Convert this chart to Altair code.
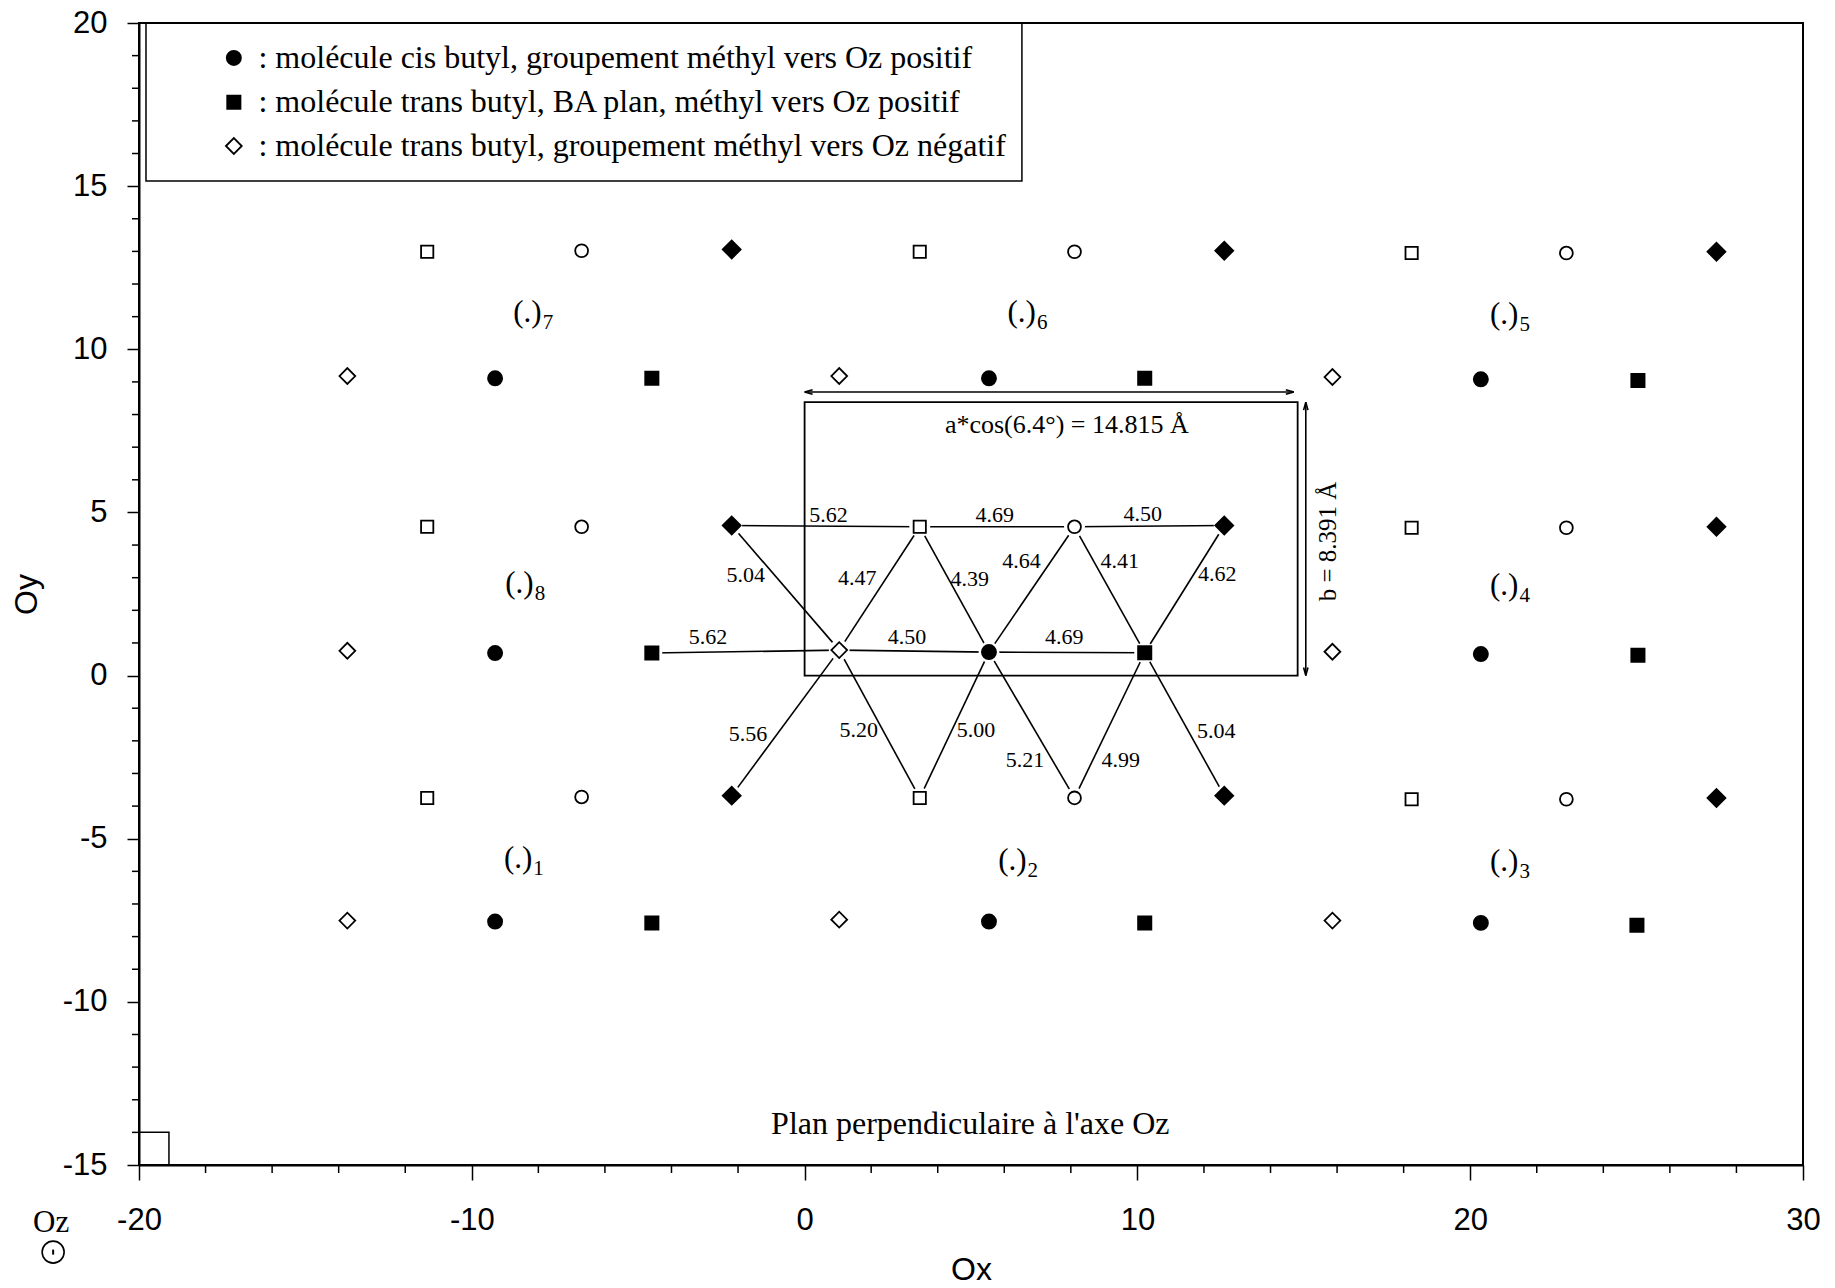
import altair as alt
import pandas as pd

# ---------------- data ----------------
open_square_x = [-11.34, 3.46, 18.24, -11.34, 3.46, 18.24, -11.34, 3.46, 18.24]
open_square_y = [12.99, 12.99, 12.95, 4.56, 4.56, 4.53, -3.75, -3.75, -3.79]
open_circle_x = [-6.70, 8.11, 22.89, -6.70, 8.11, 22.89, -6.70, 8.11, 22.89]
open_circle_y = [13.02, 12.99, 12.95, 4.56, 4.56, 4.53, -3.72, -3.75, -3.79]
filled_diamond_x = [-2.19, 12.61, 27.40, -2.19, 12.61, 27.40, -2.19, 12.61, 27.40]
filled_diamond_y = [13.06, 13.02, 12.99, 4.60, 4.60, 4.56, -3.68, -3.68, -3.75]
open_diamond_x = [-13.74, 1.04, 15.86, -13.74, 1.04, 15.86, -13.74, 1.04, 15.86]
open_diamond_y = [9.18, 9.18, 9.15, 0.76, 0.78, 0.73, -7.51, -7.48, -7.51]
filled_circle_x = [-9.30, 5.54, 20.32, -9.30, 5.54, 20.32, -9.30, 5.54, 20.32]
filled_circle_y = [9.11, 9.11, 9.08, 0.69, 0.72, 0.66, -7.54, -7.54, -7.58]
filled_square_x = [-4.59, 10.22, 25.04, -4.59, 10.22, 25.04, -4.59, 10.22, 25.01]
filled_square_y = [9.11, 9.11, 9.04, 0.69, 0.70, 0.62, -7.58, -7.58, -7.65]

# bonds between neighbouring molecules
seg_x1 = [-2.19, 3.46, 8.11, -4.59, 1.04, 5.54, -2.19, 1.04, 3.46, 5.54, 8.11, 10.22, 1.04, 1.04, 3.46, 5.54, 8.11, 10.22]
seg_y1 = [4.60, 4.56, 4.56, 0.69, 0.78, 0.72, 4.60, 0.78, 4.56, 0.72, 4.56, 0.70, 0.78, 0.78, -3.75, 0.72, -3.75, 0.70]
seg_x2 = [3.46, 8.11, 12.61, 1.04, 5.54, 10.22, 1.04, 3.46, 5.54, 8.11, 10.22, 12.61, -2.19, 3.46, 5.54, 8.11, 10.22, 12.61]
seg_y2 = [4.56, 4.56, 4.60, 0.78, 0.72, 0.70, 0.78, 4.56, 0.72, 4.56, 0.70, 4.60, -3.68, -3.75, 0.72, -3.75, 0.70, -3.68]

dist_text = ["5.62", "4.69", "4.50", "5.62", "4.50", "4.69", "5.04", "4.47", "4.39",
             "4.64", "4.41", "4.62", "5.56", "5.20", "5.00", "5.21", "4.99", "5.04"]
dist_x = [0.72, 5.71, 10.16, -2.90, 3.08, 7.80, -1.77, 1.58, 4.96, 6.52, 9.47, 12.40,
          -1.70, 1.63, 5.15, 6.62, 9.50, 12.37]
dist_y = [4.93, 4.93, 4.95, 1.19, 1.17, 1.17, 3.07, 3.00, 2.95, 3.52, 3.52, 3.12,
          -1.78, -1.66, -1.66, -2.58, -2.58, -1.71]

region_sub = ["7", "6", "5", "8", "4", "1", "2", "3"]
region_x = [-7.90, 6.95, 21.45, -8.14, 21.45, -8.18, 6.67, 21.45]
region_y = [11.12, 11.12, 11.05, 2.81, 2.73, -5.61, -5.69, -5.72]

cell_x = [0.0, 14.815]
cell_y = [0.0, 8.38]
harrow_x = [0.0, 14.70]
harrow_y = [8.69]
varrow_x = [15.06]
varrow_y = [0.0, 8.38]

legend_labels = [": molécule cis butyl, groupement méthyl vers Oz positif",
                 ": molécule trans butyl, BA plan, méthyl vers Oz positif",
                 ": molécule trans butyl, groupement méthyl vers Oz négatif"]
legend_y = [18.93, 17.57, 16.23]
legend_sym_x = -17.15
legend_txt_x = -16.41
legend_box_x = [-19.79, 6.53]
legend_box_y = [15.16, 20.0]

corner_box_x = [-20.0, -19.1]
corner_box_y = [-15.0, -14.0]

x_major = [-20, -10, 0, 10, 20, 30]
y_major = [-15, -10, -5, 0, 5, 10, 15, 20]
x_minor = [-18, -16, -14, -12, -8, -6, -4, -2, 2, 4, 6, 8, 12, 14, 16, 18, 22, 24, 26, 28]
y_minor = [-14, -13, -12, -11, -9, -8, -7, -6, -4, -3, -2, -1, 1, 2, 3, 4, 6, 7, 8, 9,
           11, 12, 13, 14, 16, 17, 18, 19]

# ---------------- chart ----------------
W, H = 1664, 1142
SERIF = "Liberation Serif"
SANS = "Liberation Sans"

xs = alt.Scale(domain=[-20, 30], nice=False, zero=False)
ys = alt.Scale(domain=[-15, 20], nice=False, zero=False)
xaxis = alt.Axis(values=x_major, tickSize=15, labelPadding=25, labelFlush=False, title="Ox",
                 titlePadding=19, labelExpr="'' + datum.value", grid=False)
yaxis = alt.Axis(values=y_major, tickSize=12, labelPadding=20, labelFlush=False, title="Oy",
                 titlePadding=19, labelExpr="'' + datum.value", grid=False)
X = alt.X("x:Q", scale=xs, axis=xaxis)
Y = alt.Y("y:Q", scale=ys, axis=yaxis)


def df(**cols):
    return pd.DataFrame(cols)


layers = []

# minor ticks
layers.append(alt.Chart(df(x=x_minor)).mark_rule(color="black", strokeWidth=1.5).encode(
    x=X, y=alt.value(H), y2=alt.value(H + 8)))
layers.append(alt.Chart(df(y=y_minor)).mark_rule(color="black", strokeWidth=1.5).encode(
    y=Y, x=alt.value(0), x2=alt.value(-7)))

# corner box
layers.append(alt.Chart(df(x=[corner_box_x[0]], x2=[corner_box_x[1]], y=[corner_box_y[0]], y2=[corner_box_y[1]]))
              .mark_rect(filled=False, stroke="black", strokeWidth=1.5)
              .encode(x=X, x2="x2:Q", y=Y, y2="y2:Q"))

# legend box
layers.append(alt.Chart(df(x=[legend_box_x[0]], x2=[legend_box_x[1]], y=[legend_box_y[0]], y2=[legend_box_y[1]]))
              .mark_rect(filled=False, stroke="black", strokeWidth=1.5)
              .encode(x=X, x2="x2:Q", y=Y, y2="y2:Q"))

# unit cell
layers.append(alt.Chart(df(x=[cell_x[0]], x2=[cell_x[1]], y=[cell_y[0]], y2=[cell_y[1]]))
              .mark_rect(filled=False, stroke="black", strokeWidth=1.8)
              .encode(x=X, x2="x2:Q", y=Y, y2="y2:Q"))

# bonds
layers.append(alt.Chart(df(x=seg_x1, y=seg_y1, x2=seg_x2, y2=seg_y2))
              .mark_rule(color="black", strokeWidth=1.6)
              .encode(x=X, y=Y, x2="x2:Q", y2="y2:Q"))

# dimension arrows
layers.append(alt.Chart(df(x=[harrow_x[0]], x2=[harrow_x[1]], y=harrow_y))
              .mark_rule(color="black", strokeWidth=1.6).encode(x=X, x2="x2:Q", y=Y))
layers.append(alt.Chart(df(x=varrow_x, y=[varrow_y[0]], y2=[varrow_y[1]]))
              .mark_rule(color="black", strokeWidth=1.6).encode(x=X, y=Y, y2="y2:Q"))
arrow_heads = [
    (harrow_x[0], harrow_y[0], "M0,0L2,-0.55M0,0L2,0.55"),
    (harrow_x[1], harrow_y[0], "M0,0L-2,-0.55M0,0L-2,0.55"),
    (varrow_x[0], varrow_y[1], "M0,0L-0.55,2M0,0L0.55,2"),
    (varrow_x[0], varrow_y[0], "M0,0L-0.55,-2M0,0L0.55,-2"),
]
for ax_, ay_, shp in arrow_heads:
    layers.append(alt.Chart(df(x=[ax_], y=[ay_]))
                  .mark_point(shape=shp, size=64, stroke="black", strokeWidth=1.6, filled=False, opacity=1)
                  .encode(x=X, y=Y))

# molecules: white halo (gap in the bonds) then the symbol
styles = [
    (open_square_x, open_square_y, "square", "white", 150),
    (open_circle_x, open_circle_y, "circle", "white", 165),
    (filled_diamond_x, filled_diamond_y, "diamond", "black", 320),
    (open_diamond_x, open_diamond_y, "diamond", "white", 250),
    (filled_circle_x, filled_circle_y, "circle", "black", 200),
    (filled_square_x, filled_square_y, "square", "black", 175),
]
for px, py, shp, fill, size in styles:
    layers.append(alt.Chart(df(x=px, y=py))
                  .mark_point(shape="circle", size=440, fill="white", filled=True, strokeWidth=0,
                              opacity=1, fillOpacity=1)
                  .encode(x=X, y=Y))
for px, py, shp, fill, size in styles:
    layers.append(alt.Chart(df(x=px, y=py))
                  .mark_point(shape=shp, size=size, fill=fill, filled=True, stroke="black",
                              strokeWidth=1.8, opacity=1, fillOpacity=1)
                  .encode(x=X, y=Y))

# legend symbols
leg_styles = [("circle", "black", 200), ("square", "black", 175), ("diamond", "white", 250)]
for (shp, fill, size), ly in zip(leg_styles, legend_y):
    layers.append(alt.Chart(df(x=[legend_sym_x], y=[ly]))
                  .mark_point(shape=shp, size=size, fill=fill, filled=True, stroke="black",
                              strokeWidth=1.8, opacity=1, fillOpacity=1)
                  .encode(x=X, y=Y))
layers.append(alt.Chart(df(x=[legend_txt_x] * 3, y=legend_y, t=legend_labels))
              .mark_text(font=SERIF, fontSize=32, align="left", baseline="middle", color="black")
              .encode(x=X, y=Y, text="t:N"))

# distances
layers.append(alt.Chart(df(x=dist_x, y=dist_y, t=dist_text))
              .mark_text(font=SERIF, fontSize=22, align="center", baseline="middle", color="black")
              .encode(x=X, y=Y, text="t:N"))

# region labels (.)n
layers.append(alt.Chart(df(x=region_x, y=region_y, t=["(.)"] * len(region_x)))
              .mark_text(font=SERIF, fontSize=31, align="right", baseline="middle", color="black")
              .encode(x=X, y=Y, text="t:N"))
layers.append(alt.Chart(df(x=region_x, y=region_y, t=region_sub))
              .mark_text(font=SERIF, fontSize=21, align="left", baseline="middle", dx=1, dy=10, color="black")
              .encode(x=X, y=Y, text="t:N"))

# annotations
annot_text = ["a*cos(6.4°) = 14.815 Å", "Plan perpendiculaire à l'axe Oz", "Oz"]
annot_x = [7.88, 4.98, -22.64]
annot_y = [7.67, -13.75, -16.78]
annot_size = [26, 32, 31]
for t, ax_, ay_, fs in zip(annot_text, annot_x, annot_y, annot_size):
    layers.append(alt.Chart(df(x=[ax_], y=[ay_], t=[t]))
                  .mark_text(font=SERIF, fontSize=fs, align="center", baseline="middle", color="black")
                  .encode(x=X, y=Y, text="t:N"))
layers.append(alt.Chart(df(x=[15.72], y=[4.11], t=["b = 8.391 Å"]))
              .mark_text(font=SERIF, fontSize=25, align="center", baseline="middle", angle=270, color="black")
              .encode(x=X, y=Y, text="t:N"))

# Oz symbol (circle with dot)
oz_circle_x = [-22.58]
oz_circle_y = [-17.67]
layers.append(alt.Chart(df(x=oz_circle_x, y=oz_circle_y))
              .mark_point(shape="circle", size=484, filled=False, stroke="black", strokeWidth=1.6, opacity=1)
              .encode(x=X, y=Y))
layers.append(alt.Chart(df(x=oz_circle_x, y=oz_circle_y))
              .mark_point(shape="M0,-1L0,1", size=25, filled=False, stroke="black", strokeWidth=2, opacity=1)
              .encode(x=X, y=Y))

chart = alt.layer(*layers).properties(
    width=W, height=H,
    autosize=alt.AutoSizeParams(type="none"),
    padding={"left": 139, "top": 23, "right": 32, "bottom": 123},
    background="white",
).configure_view(stroke="black", strokeWidth=2).configure_axis(
    domainColor="black", domainWidth=2, tickColor="black", tickWidth=1.5,
    labelFont=SANS, labelFontSize=31, labelColor="black",
    titleFont=SANS, titleFontSize=32, titleColor="black", titleFontWeight="normal",
)

chart.save("out.html", embed_options={"renderer": "svg", "actions": False})
